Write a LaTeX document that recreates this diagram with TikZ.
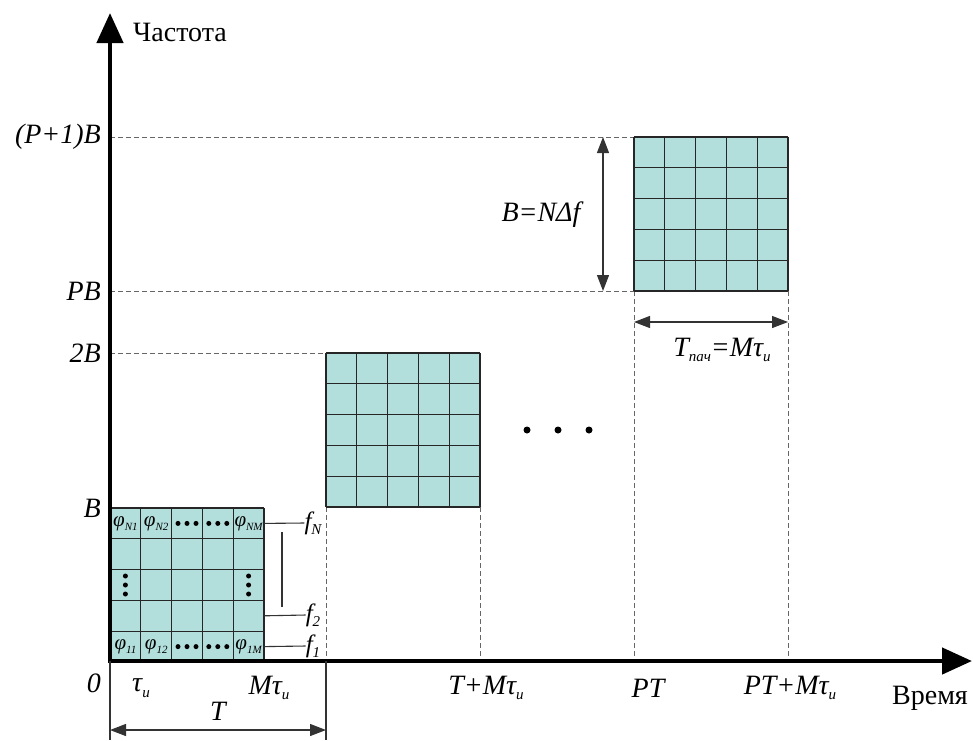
\documentclass[tikz,border=0pt]{standalone}
\usepackage{fontspec}
\setmainfont{Liberation Serif}
\usetikzlibrary{arrows.meta}
\definecolor{cellfill}{RGB}{178,222,219}
\newcommand\lsub[1]{\raisebox{-0.2em}{\fontsize{15}{15}\selectfont\itshape #1}}
\newcommand\csub[1]{\raisebox{-0.2em}{\fontsize{11}{11}\selectfont\itshape #1}}
\begin{document}
\begin{tikzpicture}[x=1pt,y=-1pt,
  lbl/.style={font=\fontsize{28}{30}\selectfont\itshape, inner sep=0pt},
  rlbl/.style={font=\fontsize{28}{30}\selectfont, inner sep=0pt},
  guide/.style={draw=gray!80!black, dash pattern=on 5pt off 3pt, line width=0.9pt},
  gridline/.style={line width=1.3pt, draw=black!85},
  axisline/.style={line width=4.5pt, -{Triangle[length=30pt,width=26pt]}},
  dimline/.style={line width=1.2pt, draw=black!80, {Triangle[length=16pt,width=12pt]}-{Triangle[length=16pt,width=12pt]}},
  thin/.style={line width=1.1pt, draw=black!80},
  cellt/.style={font=\fontsize{21}{21}\selectfont\itshape, inner sep=0pt},
  dotb/.style={circle, fill=black, inner sep=0pt, minimum size=5pt},
  bigdot/.style={circle, fill=black, inner sep=0pt, minimum size=7pt},
  ]
\useasboundingbox (0,0) rectangle (973,740);

% guide lines
\draw[guide] (110,137) -- (634,137);
\draw[guide] (110,291) -- (634,291);
\draw[guide] (110,353) -- (326,353);
\draw[guide] (326,507) -- (326,661);
\draw[guide] (480,507) -- (480,661);
\draw[guide] (634,291) -- (634,661);
\draw[guide] (788,291) -- (788,661);

% blocks
\foreach \bx/\by in {110/508, 326/353, 634/137} {
  \fill[cellfill] (\bx,\by) rectangle ++(154,154);
  \foreach \i in {0,...,5} {
    \draw[gridline] (\bx+\i*30.8,\by) -- ++(0,154);
    \draw[gridline] (\bx,\by+\i*30.8) -- ++(154,0);
  }
}

% cell labels of block 1
\node[cellt] (pn1) at (125.4,523.4) {φ\csub{N1}};
\node[cellt] (pn2) at (156.2,523.4) {φ\csub{N2}};
\node[cellt] (pnm) at (248.6,523.4) {φ\csub{NM}};
\node[cellt] (p11) at (125.4,646.6) {φ\csub{11}};
\node[cellt] (p12) at (156.2,646.6) {φ\csub{12}};
\node[cellt] (p1m) at (248.6,646.6) {φ\csub{1M}};
\foreach \cx in {187,217.8} {
  \foreach \ry in {523.4,646.6} {
    \foreach \d in {-9,0,9} { \node[dotb] at (\cx+\d,\ry) {}; }
  }
}
\foreach \cx in {125.4,248.6} {
  \foreach \d in {-9,0,9} { \node[dotb] at (\cx,585+\d) {}; }
}

% axes
\coordinate (O) at (110,661);
\coordinate (ytip) at (110,13);
\coordinate (xtip) at (972,661);
\draw[axisline] (110,663) -- (ytip);
\draw[axisline] (108,661) -- (xtip);
\node[rlbl, anchor=west] (freq) at (133,32) {Частота};
\node[rlbl] (time) at (930,698) {Время};

% y labels
\node[lbl, anchor=east] (lP1B) at (101,137) {(P+1)B};
\node[lbl, anchor=east] (lPB) at (101,291) {PB};
\node[lbl, anchor=east] (l2B) at (101,353) {2B};
\node[lbl, anchor=east] (lB) at (101,508) {B};
\node[lbl, anchor=east] (l0) at (101,683) {0};

% x labels
\node[lbl] (ltau) at (141,688) {τ\lsub{и}};
\node[lbl] (lMtau) at (269,688) {Mτ\lsub{и}};
\node[lbl] (lTM) at (486,688) {T+Mτ\lsub{и}};
\node[lbl] (lPT) at (648,688) {PT};
\node[lbl] (lPTM) at (790,688) {PT+Mτ\lsub{и}};

% T dimension
\coordinate (ta) at (110,730);
\coordinate (tb) at (326,730);
\draw[thin] (110,661) -- (110,740);
\draw[thin] (326,661) -- (326,740);
\draw[dimline] (ta) -- (tb);
\node[lbl] (lT) at (218,711) {T};

% f labels
\node[lbl, font=\fontsize{25}{25}\selectfont\itshape] (fN) at (313,523) {f\lsub{N}};
\node[lbl, font=\fontsize{25}{25}\selectfont\itshape] (f2) at (313,615) {f\lsub{2}};
\node[lbl, font=\fontsize{25}{25}\selectfont\itshape] (f1) at (313,646) {f\lsub{1}};
\draw[thin] (264,523.4) -- (fN.west);
\draw[thin] (264,615.8) -- (f2.west);
\draw[thin] (264,646.6) -- (f1.west);
\coordinate (vb1) at (282,532);
\coordinate (vb2) at (282,607);
\draw[thin] (vb1) -- (vb2);

% B dimension
\coordinate (ba) at (603,137);
\coordinate (bb) at (603,291);
\draw[dimline] (ba) -- (bb);
\node[lbl] (lBN) at (541,215) {B=NΔf};

% Tpach dimension
\coordinate (pa) at (634,322);
\coordinate (pb) at (788,322);
\draw[dimline] (pa) -- (pb);
\node[lbl] (lTp) at (722,350) {T\lsub{пач}=Mτ\lsub{и}};

% ellipsis dots
\node[bigdot] (d1) at (527,430) {};
\node[bigdot] (d2) at (558,430) {};
\node[bigdot] (d3) at (589,430) {};
\end{tikzpicture}
\end{document}
